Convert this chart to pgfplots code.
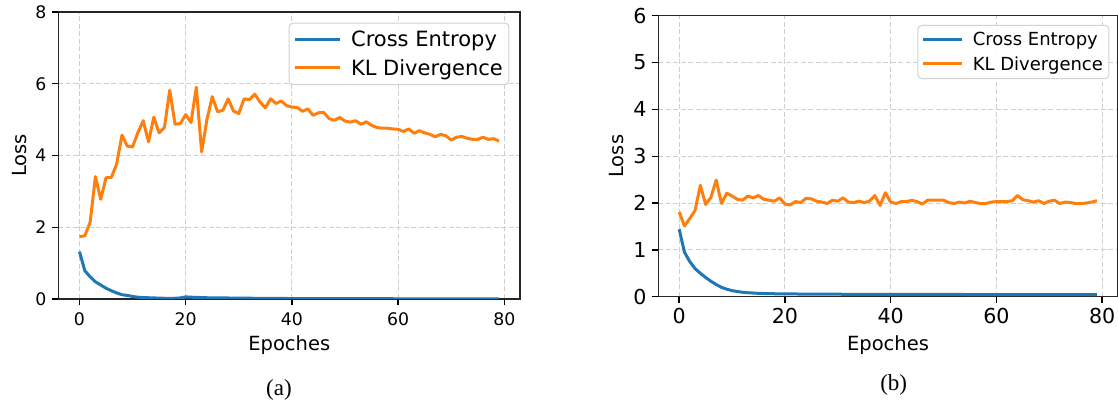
\documentclass[border=0pt]{standalone}
\usepackage{fontspec}
\setmainfont{DejaVu Sans}
\newfontfamily\capfont{Liberation Serif}
\usepackage{pgfplots}
\usepackage{pgfplotstable}
\pgfplotsset{compat=1.18}
\definecolor{mplblue}{HTML}{1F77B4}
\definecolor{mplorange}{HTML}{FF7F0E}
\definecolor{gridgray}{HTML}{CFCFCF}

% epoch, cross entropy, KL divergence -- panel (a)
\pgfplotstableread{
e ce kl
0 1.32 1.74
1 0.79 1.76
2 0.62 2.13
3 0.48 3.41
4 0.39 2.78
5 0.30 3.38
6 0.23 3.39
7 0.17 3.76
8 0.12 4.57
9 0.10 4.26
10 0.07 4.24
11 0.05 4.64
12 0.04 4.97
13 0.035 4.38
14 0.03 5.07
15 0.025 4.63
16 0.02 4.78
17 0.02 5.82
18 0.02 4.87
19 0.03 4.89
20 0.06 5.14
21 0.05 4.92
22 0.045 5.90
23 0.04 4.10
24 0.035 5.00
25 0.03 5.64
26 0.03 5.22
27 0.03 5.26
28 0.028 5.58
29 0.026 5.24
30 0.025 5.17
31 0.024 5.58
32 0.022 5.56
33 0.02 5.71
34 0.02 5.49
35 0.018 5.33
36 0.017 5.58
37 0.016 5.45
38 0.015 5.52
39 0.014 5.39
40 0.013 5.35
41 0.012 5.34
42 0.012 5.23
43 0.011 5.30
44 0.011 5.12
45 0.010 5.19
46 0.010 5.20
47 0.010 5.03
48 0.009 4.98
49 0.009 5.06
50 0.009 4.96
51 0.008 4.93
52 0.008 4.97
53 0.008 4.87
54 0.008 4.94
55 0.007 4.84
56 0.007 4.78
57 0.007 4.76
58 0.007 4.76
59 0.007 4.74
60 0.006 4.73
61 0.006 4.67
62 0.006 4.74
63 0.006 4.62
64 0.006 4.69
65 0.006 4.63
66 0.006 4.59
67 0.005 4.52
68 0.005 4.59
69 0.005 4.55
70 0.005 4.43
71 0.005 4.51
72 0.005 4.53
73 0.005 4.48
74 0.005 4.45
75 0.005 4.45
76 0.005 4.51
77 0.005 4.45
78 0.005 4.47
79 0.005 4.40
}\dataA

% panel (b)
\pgfplotstableread{
e ce kl
0 1.44 1.81
1 0.95 1.51
2 0.75 1.67
3 0.60 1.84
4 0.50 2.38
5 0.41 1.97
6 0.33 2.12
7 0.26 2.49
8 0.20 1.99
9 0.16 2.21
10 0.13 2.15
11 0.11 2.08
12 0.095 2.06
13 0.085 2.15
14 0.078 2.11
15 0.072 2.16
16 0.068 2.08
17 0.065 2.06
18 0.063 2.04
19 0.061 2.11
20 0.060 1.98
21 0.059 1.96
22 0.058 2.03
23 0.057 2.01
24 0.056 2.10
25 0.055 2.09
26 0.055 2.04
27 0.054 2.02
28 0.054 1.99
29 0.053 2.06
30 0.053 2.04
31 0.052 2.11
32 0.052 2.02
33 0.052 2.01
34 0.051 2.04
35 0.051 2.01
36 0.051 2.04
37 0.050 2.16
38 0.050 1.95
39 0.050 2.22
40 0.050 2.02
41 0.049 1.99
42 0.049 2.03
43 0.049 2.03
44 0.049 2.06
45 0.048 2.03
46 0.048 1.98
47 0.048 2.06
48 0.048 2.06
49 0.048 2.06
50 0.047 2.06
51 0.047 2.01
52 0.047 1.99
53 0.047 2.02
54 0.047 2.00
55 0.046 2.04
56 0.046 2.01
57 0.046 1.99
58 0.046 1.99
59 0.046 2.02
60 0.046 2.03
61 0.045 2.03
62 0.045 2.03
63 0.045 2.05
64 0.045 2.16
65 0.045 2.07
66 0.045 2.05
67 0.045 2.02
68 0.044 2.05
69 0.044 1.99
70 0.044 2.04
71 0.044 2.06
72 0.044 1.99
73 0.044 2.02
74 0.044 2.01
75 0.044 1.99
76 0.043 1.99
77 0.043 2.00
78 0.043 2.02
79 0.043 2.05
}\dataB

\pgfplotsset{
  lossaxis/.style={
    scale only axis,
    anchor=south west,
    xmin=-3.95, xmax=82.95, ymin=0,
    xtick={0,20,40,60,80},
    tick pos=left,
    tick align=outside,
    major tick length=6pt,
    every tick/.style={black, line width=1.4pt},
    axis line style={black!85, line width=1.4pt},
    grid=major,
    major grid style={gridgray, line width=1pt, dash pattern=on 5pt off 2.5pt},
    /pgf/number format/assume math mode=true,
    xticklabel style={inner sep=0pt, anchor=north},
    yticklabel style={inner sep=0pt, anchor=east},
    legend cell align=left,
    legend style={anchor=north east, draw=gray!35, line width=1pt,
      rounded corners=4pt, fill=white, fill opacity=0.9, text opacity=1},
    every axis plot/.append style={line width=3pt, line join=round},
  },
}

\begin{document}
\begin{tikzpicture}
\useasboundingbox (0,0) rectangle (1118pt,404pt);

% (a)
\begin{axis}[lossaxis,
  at={(58.5pt,105pt)}, width=461.5pt, height=287pt,
  ymax=8, ytick={0,2,4,6,8},
  ticklabel style={font=\fontsize{17.3}{20}\selectfont},
  xticklabel shift=7pt, yticklabel shift=6pt,
  xlabel={Epoches}, ylabel={Loss},
  label style={font=\fontsize{19.5}{22}\selectfont},
  xlabel style={at={(axis description cs:0.5,-0.1777)}, anchor=base},
  ylabel style={at={(axis description cs:-0.0689,0.5)}, anchor=base, rotate=0},
  legend style={at={(0.977,0.963)}, font=\fontsize{21}{25}\selectfont,
    inner xsep=4pt, inner ysep=6pt, row sep=7pt, column sep=8pt},
  legend image code/.code={\draw[#1] (0pt,0pt) -- (45pt,0pt);},
]
\addplot[mplblue] table[x=e, y=ce] {\dataA};
\addplot[mplorange] table[x=e, y=kl] {\dataA};
\legend{Cross Entropy, KL Divergence}
\end{axis}

% (b)
\begin{axis}[lossaxis,
  at={(658.3pt,107.3pt)}, width=459.4pt, height=281pt,
  ymax=6, ytick={0,1,2,3,4,5,6},
  ticklabel style={font=\fontsize{20.6}{24}\selectfont},
  xticklabel shift=5.5pt, yticklabel shift=5.6pt,
  xlabel={Epoches}, ylabel={Loss},
  label style={font=\fontsize{19.5}{22}\selectfont},
  xlabel style={at={(axis description cs:0.5,-0.193)}, anchor=base},
  ylabel style={at={(axis description cs:-0.0747,0.5)}, anchor=base, rotate=0},
  legend style={at={(0.982,0.967)}, font=\fontsize{18}{21}\selectfont,
    inner xsep=4pt, inner ysep=5pt, row sep=5pt, column sep=7pt},
  legend image code/.code={\draw[#1] (0pt,0pt) -- (39pt,0pt);},
]
\addplot[mplblue] table[x=e, y=ce] {\dataB};
\addplot[mplorange] table[x=e, y=kl] {\dataB};
\legend{Cross Entropy, KL Divergence}
\end{axis}

\node[anchor=base, font=\capfont\fontsize{23}{27}\selectfont] at (279pt,8.4pt) {(a)};
\node[anchor=base, font=\capfont\fontsize{23}{27}\selectfont] at (893.7pt,13.7pt) {(b)};
\end{tikzpicture}
\end{document}
